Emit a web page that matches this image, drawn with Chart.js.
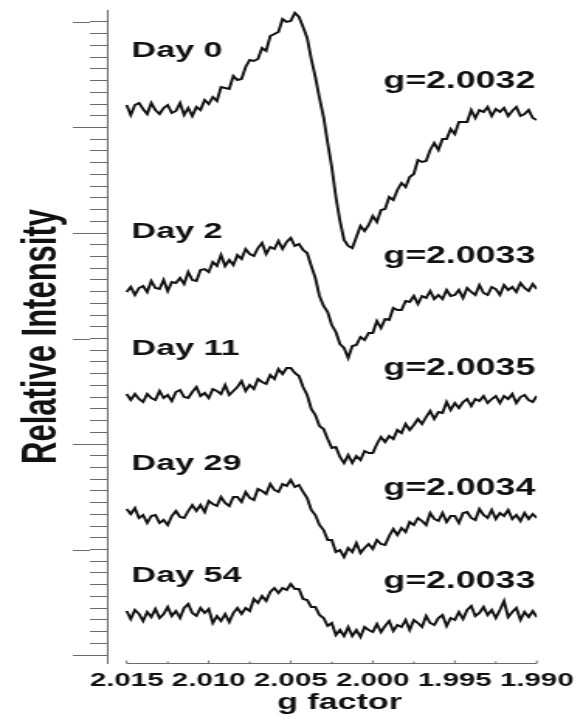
<!DOCTYPE html>
<html>
<head>
<meta charset="utf-8">
<script src="https://cdn.jsdelivr.net/npm/chart.js@4.4.1/dist/chart.umd.min.js"></script>
<style>
  html, body { margin: 0; padding: 0; background: #fff; overflow: hidden; }
  /* the source figure is stretched sideways, so the chart is drawn narrow and widened */
  #wrap { position: relative; width: 376px; height: 718px; transform: scaleX(1.5505); transform-origin: 0 0; }
</style>
</head>
<body>
<div id="wrap"><canvas id="chart"></canvas></div>
<script>
// g factor sampling (x)
const gFactor = [
  2.01500, 2.01475, 2.01450, 2.01425, 2.01400, 2.01375, 2.01350, 2.01325, 2.01300, 2.01275,
  2.01250, 2.01225, 2.01200, 2.01175, 2.01150, 2.01125, 2.01100, 2.01075, 2.01050, 2.01025,
  2.01000, 2.00975, 2.00950, 2.00925, 2.00900, 2.00875, 2.00850, 2.00825, 2.00800, 2.00775,
  2.00750, 2.00725, 2.00700, 2.00675, 2.00650, 2.00625, 2.00600, 2.00575, 2.00550, 2.00525,
  2.00500, 2.00475, 2.00450, 2.00425, 2.00400, 2.00375, 2.00350, 2.00325, 2.00300, 2.00275,
  2.00250, 2.00225, 2.00200, 2.00175, 2.00150, 2.00125, 2.00100, 2.00075, 2.00050, 2.00025,
  2.00000, 1.99975, 1.99950, 1.99925, 1.99900, 1.99875, 1.99850, 1.99825, 1.99800, 1.99775,
  1.99750, 1.99725, 1.99700, 1.99675, 1.99650, 1.99625, 1.99600, 1.99575, 1.99550, 1.99525,
  1.99500, 1.99475, 1.99450, 1.99425, 1.99400, 1.99375, 1.99350, 1.99325, 1.99300, 1.99275,
  1.99250, 1.99225, 1.99200, 1.99175, 1.99150, 1.99125, 1.99100, 1.99075, 1.99050, 1.99025,
  1.99000
];

// EPR signal of each sample, relative to its own baseline (arb. units)
const day0 = [
  3,-7,3,5,-1,-6,5,-2,-6,0, 3,-5,-3,5,-7,0,-8,1,-2,8,
  4,11,7,21,20,19,32,28,29,41, 48,47,49,60,57,72,74,76,89,86,
  87,95,91,81,70,49,31,10,-9,-35, -59,-89,-113,-132,-138,-140,-129,-118,-123,-117,
  -108,-114,-102,-101,-89,-92,-82,-75,-79,-69, -66,-52,-54,-53,-42,-35,-42,-31,-31,-21,
  -26,-14,-14,-14,-2,-10,-2,-4,1,-8, -1,-4,0,-8,-3,1,-8,-6,-2,-10,
  -12
];
const day2 = [
  -2,3,-5,2,4,-2,9,2,1,10, -1,8,7,12,6,18,10,9,20,21,
  18,28,24,35,24,30,25,35,31,41, 36,34,42,47,36,43,41,49,41,48,
  52,44,46,40,37,24,12,-6,-16,-22, -35,-42,-54,-58,-68,-56,-55,-47,-50,-43,
  -43,-31,-38,-29,-30,-18,-20,-20,-11,-12, -6,-14,-6,-8,-1,-9,-5,-9,0,-6,
  -5,0,-8,2,-2,-5,5,-3,-5,3, 1,-5,5,0,3,-2,7,2,-1,6,
  1
];
const day11 = [
  2,-4,2,-3,-6,2,-2,-4,5,-2, 1,-5,4,6,-1,-2,4,9,0,3,
  -2,7,5,2,11,1,5,9,15,5, 11,7,17,14,12,21,17,27,22,28,
  28,23,20,9,1,-13,-19,-30,-33,-43, -52,-51,-61,-67,-59,-67,-60,-64,-55,-57,
  -57,-48,-41,-46,-40,-43,-34,-37,-28,-34, -29,-23,-28,-21,-15,-23,-16,-17,-6,-14,
  -7,-12,-6,-3,-10,-3,-5,0,-7,-3, 0,-7,0,-3,2,-7,-1,1,-4,-6,
  0
];
const day29 = [
  3,-2,4,-6,-3,-11,-4,-3,-11,-8, -13,-4,1,-5,-6,1,7,1,7,0,
  11,8,6,15,9,6,15,15,10,20, 14,12,23,21,18,28,22,20,28,26,
  32,25,27,20,14,2,-3,-13,-18,-28, -28,-40,-38,-45,-36,-40,-31,-41,-36,-32,
  -37,-28,-32,-33,-24,-17,-23,-16,-20,-10, -13,-6,-9,-13,-1,-7,-9,-1,-10,-4,
  -4,-11,-1,0,-6,-8,3,-3,-6,2, -7,-1,-4,2,-7,-3,-9,-1,-7,-2,
  -6
];
const day54 = [
  2,-6,3,-1,-8,1,-4,4,-5,-1, 6,-3,2,-5,5,9,0,-3,5,0,
  4,-10,-3,-8,-1,-9,0,5,-1,5, 2,14,10,17,12,21,25,20,25,23,
  29,24,24,14,13,6,6,-2,-5,-13, -10,-22,-17,-23,-14,-23,-17,-24,-14,-17,
  -19,-11,-19,-13,-8,-18,-12,-14,-7,-17, -7,-10,-14,-3,-10,-12,-5,-2,-13,-5,
  -7,1,-6,3,7,-3,0,6,-2,3, -5,3,12,-4,1,5,-7,1,-4,2,
  -4
];

const spectra = [day0, day2, day11, day29, day54];
const offsets = [547, 365, 259, 143, 42];          // vertical stacking of the traces
const dayLabels = ['Day 0', 'Day 2', 'Day 11', 'Day 29', 'Day 54'];
const gLabels = ['g=2.0032', 'g=2.0033', 'g=2.0035', 'g=2.0034', 'g=2.0033'];
const xTicks = [2.015, 2.010, 2.005, 2.000, 1.995, 1.990];

// y axis: 6 major divisions, 9 minor steps each
const yMajorStep = 105.5;
const yMinorPerMajor = 9;
const yMajorCount = 6;

// where the text sits (in axis units)
const dayLabelPos = { g: 2.0147, y: [598, 417, 300, 185, 73] };
const gLabelPos = { g: 1.9901, y: [567, 392, 280, 160, 67] };

const FONT = '"Liberation Sans", Arial, Helvetica, sans-serif';
const INK = '#111';
const AXIS = '#6a6a6a';

const yMajor = [];
const yMinor = [];
for (let i = 0; i <= yMajorCount; i++) yMajor.push(i * yMajorStep);
for (let i = 0; i <= yMajorCount * yMinorPerMajor; i++) yMinor.push(i * yMajorStep / yMinorPerMajor);

const datasets = spectra.map((s, k) => ({
  label: dayLabels[k],
  data: gFactor.map((g, i) => ({ x: g, y: offsets[k] + s[i] })),
  borderColor: INK,
  borderWidth: 1.9,
  pointRadius: 0,
  tension: 0,
  fill: false
}));

const decor = {
  id: 'decor',
  afterDraw(chart) {
    const { ctx, chartArea, scales: { x, y } } = chart;
    ctx.save();
    ctx.strokeStyle = AXIS;
    ctx.lineWidth = 1;
    ctx.beginPath();
    // x axis stops at the data range, detached from the y axis
    const x0 = x.getPixelForValue(xTicks[0]);
    const x1 = x.getPixelForValue(xTicks[xTicks.length - 1]);
    const yb = chartArea.bottom + 0.5;
    ctx.moveTo(x0, yb); ctx.lineTo(x1, yb);
    const half = (xTicks[0] - xTicks[1]) / 2;
    xTicks.forEach((v, i) => {
      const p = x.getPixelForValue(v);
      ctx.moveTo(p, yb); ctx.lineTo(p, yb - 3);
      if (i < xTicks.length - 1) {
        const m = x.getPixelForValue(v - half);
        ctx.moveTo(m, yb); ctx.lineTo(m, yb - 2);
      }
    });
    // long major ticks on the y axis
    yMajor.forEach(v => {
      const p = Math.round(y.getPixelForValue(v)) + 0.5;
      ctx.moveTo(chartArea.left - 22, p); ctx.lineTo(chartArea.left - 11, p);
    });
    ctx.stroke();

    ctx.fillStyle = INK;
    ctx.textBaseline = 'alphabetic';
    ctx.font = `bold 22px ${FONT}`;
    ctx.textAlign = 'left';
    dayLabels.forEach((t, k) => ctx.fillText(t, x.getPixelForValue(dayLabelPos.g), y.getPixelForValue(dayLabelPos.y[k])));
    ctx.font = `bold 23px ${FONT}`;
    ctx.textAlign = 'right';
    gLabels.forEach((t, k) => ctx.fillText(t, x.getPixelForValue(gLabelPos.g), y.getPixelForValue(gLabelPos.y[k])));

    // x axis title
    ctx.font = `bold 22px ${FONT}`;
    ctx.textAlign = 'center';
    ctx.fillText('g factor', (x0 + x1) / 2 + 5, 709);
    ctx.restore();
  }
};

new Chart(document.getElementById('chart'), {
  type: 'line',
  data: { datasets },
  plugins: [decor],
  options: {
    responsive: true,
    maintainAspectRatio: false,
    animation: false,
    layout: { padding: { top: 10, right: 26.4, bottom: 0, left: 0 } },
    plugins: { legend: { display: false }, tooltip: { enabled: false } },
    scales: {
      x: {
        type: 'linear',
        reverse: true,
        bounds: 'data',
        min: 1.990,
        max: 2.0162,
        afterBuildTicks: s => { s.ticks = xTicks.map(v => ({ value: v })); },
        afterFit: s => { s.height = 55; },
        ticks: {
          autoSkip: false, maxRotation: 0, minRotation: 0, padding: 6,
          color: INK, font: { family: FONT, size: 19, weight: 'bold' },
          callback: v => Number(v).toFixed(3)
        },
        grid: { display: false, drawTicks: false },
        border: { display: false }
      },
      y: {
        type: 'linear',
        bounds: 'data',
        min: -8,
        max: 645,
        afterBuildTicks: s => { s.ticks = yMinor.map(v => ({ value: v })); },
        afterFit: s => { s.width = 69; },
        ticks: { display: false },
        grid: { drawOnChartArea: false, drawTicks: true, tickLength: 11, color: AXIS, lineWidth: 1 },
        border: { display: true, color: AXIS, width: 1 },
        title: {
          display: true, text: 'Relative Intensity', color: INK,
          font: { family: FONT, size: 31, weight: 'bold' },
          padding: { top: 9, bottom: 0 }
        }
      }
    }
  }
});
</script>
</body>
</html>
